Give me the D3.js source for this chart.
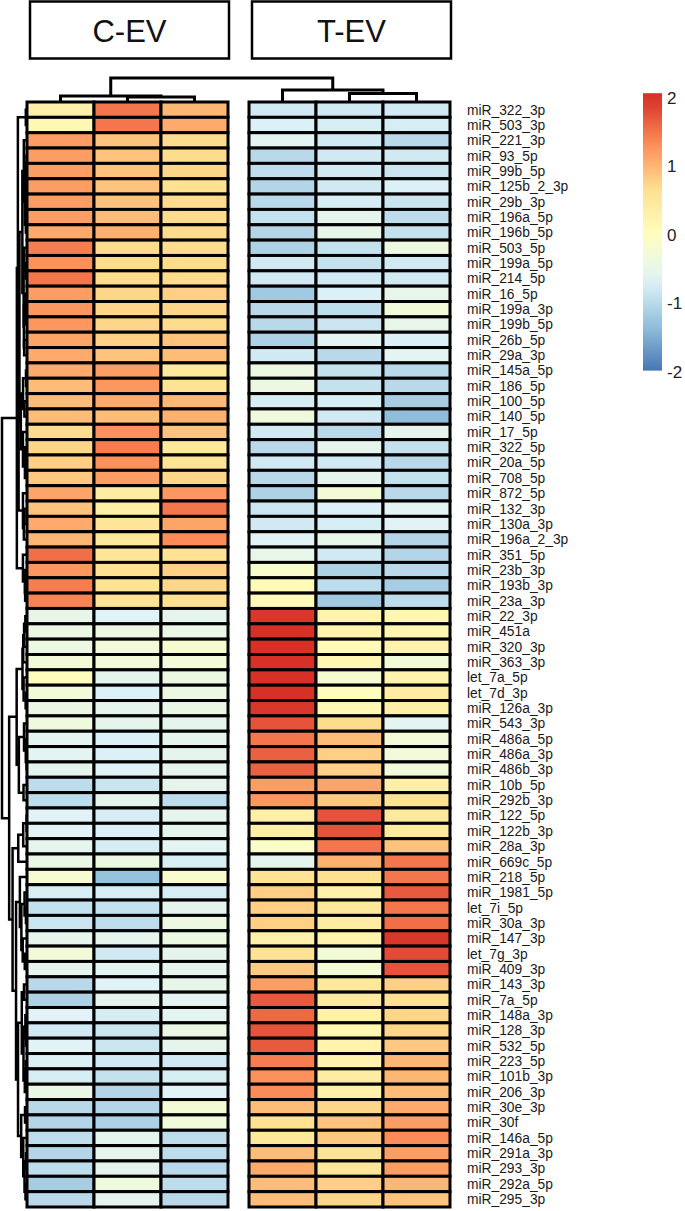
<!DOCTYPE html>
<html>
<head>
<meta charset="utf-8">
<title>miRNA heatmap</title>
<style>
  body { margin: 0; background: #fff; }
  svg { display: block; font-family: "Liberation Sans", Arial, sans-serif; }
  .rowlab { font-size: 13.8px; fill: #1a1a1a; }
  .leglab { font-size: 17px; fill: #222; }
  .grp { font-size: 31px; fill: #111; }
</style>
</head>
<body>
<div id="chart"></div>
<script src="https://cdn.jsdelivr.net/npm/d3@7"></script>
<script>
(function(d3) {
  'use strict';

  var rowLabels = [
    'miR_322_3p', 'miR_503_3p', 'miR_221_3p', 'miR_93_5p', 'miR_99b_5p', 'miR_125b_2_3p',
    'miR_29b_3p', 'miR_196a_5p', 'miR_196b_5p', 'miR_503_5p', 'miR_199a_5p', 'miR_214_5p',
    'miR_16_5p', 'miR_199a_3p', 'miR_199b_5p', 'miR_26b_5p', 'miR_29a_3p', 'miR_145a_5p',
    'miR_186_5p', 'miR_100_5p', 'miR_140_5p', 'miR_17_5p', 'miR_322_5p', 'miR_20a_5p',
    'miR_708_5p', 'miR_872_5p', 'miR_132_3p', 'miR_130a_3p', 'miR_196a_2_3p', 'miR_351_5p',
    'miR_23b_3p', 'miR_193b_3p', 'miR_23a_3p', 'miR_22_3p', 'miR_451a', 'miR_320_3p',
    'miR_363_3p', 'let_7a_5p', 'let_7d_3p', 'miR_126a_3p', 'miR_543_3p', 'miR_486a_5p',
    'miR_486a_3p', 'miR_486b_3p', 'miR_10b_5p', 'miR_292b_3p', 'miR_122_5p', 'miR_122b_3p',
    'miR_28a_3p', 'miR_669c_5p', 'miR_218_5p', 'miR_1981_5p', 'let_7i_5p', 'miR_30a_3p',
    'miR_147_3p', 'let_7g_3p', 'miR_409_3p', 'miR_143_3p', 'miR_7a_5p', 'miR_148a_3p',
    'miR_128_3p', 'miR_532_5p', 'miR_223_5p', 'miR_101b_3p', 'miR_206_3p', 'miR_30e_3p',
    'miR_30f', 'miR_146a_5p', 'miR_291a_3p', 'miR_293_3p', 'miR_292a_5p', 'miR_295_3p'
  ];

  var groups = ['C-EV', 'T-EV'];

  // row z-scores, one array per sample column
  var cev1 = [0.3, 0.15, 1.2, 1.2, 1.2, 1.2, 1.2, 1.2, 1.1, 1.45,
    1.3, 1.5, 1.2, 1.25, 1.25, 1.15, 1.1, 1.1, 0.95, 0.95,
    0.95, 0.7, 0.75, 0.8, 0.85, 1.15, 0.9, 1.1, 1.0, 1.55,
    1.25, 1.45, 1.4, -0.5, -0.4, -0.4, -0.3, 0.05, -0.3, -0.45,
    -0.35, -0.6, -0.6, -0.55, -0.95, -0.95, -0.65, -0.65, -0.55, -0.45,
    -0.2, -0.75, -0.9, -0.85, -0.55, -0.3, -0.55, -1.0, -1.1, -0.65,
    -0.8, -0.65, -0.7, -0.75, -0.45, -1.0, -1.05, -0.95, -1.05, -0.95,
    -1.15, -1.0];
  var cev2 = [1.5, 1.5, 0.9, 0.9, 0.9, 0.9, 0.9, 0.95, 1.05, 0.7,
    0.7, 0.7, 0.75, 0.75, 0.75, 0.8, 0.9, 1.2, 1.25, 1.1,
    0.95, 1.3, 1.45, 1.3, 1.2, 0.4, 0.35, 0.55, 0.5, 0.55,
    0.65, 0.6, 0.6, -0.65, -0.4, -0.3, -0.3, -0.55, -0.7, -0.55,
    -0.55, -0.7, -0.7, -0.65, -0.85, -0.55, -0.75, -0.7, -0.75, -0.4,
    -1.3, -0.75, -0.9, -0.95, -0.55, -0.8, -0.6, -0.65, -0.55, -0.75,
    -0.85, -0.85, -0.8, -0.9, -1.05, -1.05, -1.1, -0.55, -0.55, -0.55,
    -0.35, -0.55];
  var cev3 = [1.0, 1.1, 0.7, 0.7, 0.75, 0.65, 0.7, 0.7, 0.7, 0.7,
    0.7, 0.7, 0.8, 0.75, 0.7, 0.9, 0.95, 0.5, 0.6, 1.0,
    1.05, 0.9, 0.5, 0.6, 0.75, 1.25, 1.5, 1.15, 1.35, 0.6,
    0.8, 0.75, 0.65, -0.55, -0.45, -0.2, -0.3, -0.4, -0.4, -0.45,
    -0.55, -0.55, -0.55, -0.55, -0.55, -0.95, -0.55, -0.55, -0.6, -0.75,
    -0.15, -0.75, -0.55, -0.4, -0.4, -0.55, -0.55, -0.5, -0.6, -0.6,
    -0.45, -0.55, -0.8, -0.75, -0.65, -0.25, -0.3, -0.95, -0.95, -1.0,
    -0.95, -1.0];
  var tev1 = [-0.8, -0.7, -0.6, -1.0, -0.95, -1.05, -1.0, -0.9, -1.05, -1.1,
    -0.8, -0.8, -1.2, -1.0, -1.0, -1.1, -0.8, -0.4, -0.4, -0.75,
    -0.35, -0.8, -1.0, -0.8, -1.0, -1.1, -0.85, -0.8, -0.65, -0.5,
    -0.15, 0.1, 0.1, 1.95, 2.05, 2.0, 2.0, 2.0, 2.0, 1.95,
    1.75, 1.5, 1.65, 1.65, 1.2, 1.25, 0.35, 0.35, -0.1, -0.55,
    0.6, 0.8, 0.8, 0.8, 0.3, 0.6, 0.85, 1.2, 1.7, 1.6,
    1.75, 1.7, 1.45, 1.3, 1.35, 0.95, 0.65, 0.5, 0.95, 1.1,
    0.95, 0.95];
  var tev2 = [-0.8, -0.75, -0.8, -0.8, -0.8, -0.8, -0.75, -0.55, -0.5, -0.9,
    -0.9, -0.8, -0.7, -0.95, -0.85, -0.6, -1.0, -0.9, -0.9, -0.75,
    -0.8, -1.0, -0.55, -0.8, -0.55, -0.25, -0.7, -0.75, -0.5, -0.8,
    -1.1, -0.95, -1.2, 0.25, 0.25, 0.1, 0.2, -0.2, 0.05, 0.15,
    0.7, 0.95, 0.8, 0.8, 1.15, 0.85, 1.75, 1.75, 1.5, 1.05,
    0.65, 0.3, 0.5, 0.4, 0.25, -0.25, -0.25, 0.5, 0.45, 0.3,
    0.2, 0.25, 0.25, 0.4, 0.3, 0.75, 0.9, 0.85, 0.6, 0.55,
    0.8, 0.75];
  var tev3 = [-0.8, -0.75, -1.0, -0.8, -0.85, -0.7, -0.85, -0.95, -0.9, -0.4,
    -0.8, -0.8, -0.5, -0.3, -0.5, -0.7, -0.6, -1.0, -1.0, -1.15,
    -1.35, -0.55, -0.9, -1.0, -0.9, -1.0, -0.6, -0.65, -1.05, -1.05,
    -1.0, -1.15, -0.95, 0.2, 0.2, 0.25, -0.3, 0.25, 0.4, 0.35,
    -0.6, -0.3, -0.3, -0.3, 0.35, 0.6, 0.5, 0.45, 0.9, 1.5,
    1.5, 1.7, 1.5, 1.55, 1.95, 1.8, 1.75, 0.8, 0.65, 0.75,
    0.75, 0.85, 1.0, 1.0, 0.95, 1.1, 1.2, 1.35, 1.2, 1.2,
    1.0, 0.9];

  var legendTicks = [2, 1, 0, -1, -2];

  var columns = [
    { group: 'C-EV', idx: 0, values: cev1 },
    { group: 'C-EV', idx: 1, values: cev2 },
    { group: 'C-EV', idx: 2, values: cev3 },
    { group: 'T-EV', idx: 0, values: tev1 },
    { group: 'T-EV', idx: 1, values: tev2 },
    { group: 'T-EV', idx: 2, values: tev3 }
  ];

  var width = 685, height = 1211;

  var svg = d3.select('#chart').append('svg')
    .attr('width', width)
    .attr('height', height);

  // pheatmap style palette: rev(RdYlBu, 7)
  var palette = ['#4575B4', '#91BFDB', '#E0F3F8', '#FFFFBF', '#FEE090', '#FC8D59', '#D73027'];
  var color = d3.scaleLinear()
    .domain(d3.range(7).map(function(i) { return -2 + i * 4 / 6; }))
    .range(palette)
    .interpolate(d3.interpolateRgb)
    .clamp(true);

  var groupX = d3.scaleBand().domain(groups).range([27, 450]).paddingInner(0.0946);
  var colX = d3.scaleBand().domain([0, 1, 2]).range([0, groupX.bandwidth()]);
  var y = d3.scaleBand().domain(rowLabels).range([102, 1207]);

  function cx(c) { return groupX(c.group) + colX(c.idx); }

  // ---- heatmap cells
  var cells = [];
  columns.forEach(function(c) {
    c.values.forEach(function(v, r) {
      cells.push({ col: c, row: rowLabels[r], v: v });
    });
  });

  svg.append('g').selectAll('rect')
    .data(cells)
    .enter().append('rect')
    .attr('x', function(d) { return cx(d.col); })
    .attr('y', function(d) { return y(d.row); })
    .attr('width', colX.bandwidth())
    .attr('height', y.bandwidth())
    .attr('fill', function(d) { return color(d.v); })
    .attr('stroke', '#000')
    .attr('stroke-width', 3);

  // ---- row labels
  svg.append('g').selectAll('text')
    .data(rowLabels)
    .enter().append('text')
    .attr('class', 'rowlab')
    .attr('x', 467)
    .attr('y', function(d) { return y(d) + y.bandwidth() / 2; })
    .attr('dy', '0.35em')
    .text(function(d) { return d; });

  // ---- order-preserving complete-linkage clustering
  function euclid(a, b) {
    var s = 0;
    for (var i = 0; i < a.length; i++) s += (a[i] - b[i]) * (a[i] - b[i]);
    return Math.sqrt(s);
  }
  function cluster(vectors) {
    var dist = vectors.map(function(a) { return vectors.map(function(b) { return euclid(a, b); }); });
    var nodes = vectors.map(function(v, i) { return { leaf: i, members: [i], h: 0 }; });
    while (nodes.length > 1) {
      var best = -1, bestD = Infinity;
      for (var k = 0; k < nodes.length - 1; k++) {
        var dk = 0;
        nodes[k].members.forEach(function(a) {
          nodes[k + 1].members.forEach(function(b) { dk = Math.max(dk, dist[a][b]); });
        });
        if (dk < bestD) { bestD = dk; best = k; }
      }
      var merged = {
        children: [nodes[best], nodes[best + 1]],
        members: nodes[best].members.concat(nodes[best + 1].members),
        h: bestD
      };
      nodes.splice(best, 2, merged);
    }
    return d3.hierarchy(nodes[0]);
  }

  // ---- row dendrogram
  var rowVectors = rowLabels.map(function(r, i) {
    return columns.map(function(c) { return c.values[i]; });
  });
  var rowTree = cluster(rowVectors);
  rowTree.eachAfter(function(n) {
    n.pos = n.children ? (n.children[0].pos + n.children[1].pos) / 2
      : y(rowLabels[n.data.leaf]) + y.bandwidth() / 2;
  });
  var rowH = d3.scaleLinear().domain([0, rowTree.data.h]).range([27, 2]);

  svg.append('g').selectAll('path')
    .data(rowTree.descendants().filter(function(n) { return n.children; }))
    .enter().append('path')
    .attr('fill', 'none')
    .attr('stroke', '#000')
    .attr('stroke-width', 2.5)
    .attr('d', function(n) {
      var a = n.children[0], b = n.children[1];
      return 'M' + rowH(a.data.h) + ',' + a.pos +
        'H' + rowH(n.data.h) + 'V' + b.pos + 'H' + rowH(b.data.h);
    });

  // ---- column dendrogram
  var colVectors = columns.map(function(c) { return c.values; });
  var colTree = cluster(colVectors);
  colTree.eachAfter(function(n) {
    n.pos = n.children ? (n.children[0].pos + n.children[1].pos) / 2
      : cx(columns[n.data.leaf]) + colX.bandwidth() / 2;
  });
  var colH = d3.scaleLinear().domain([0, colTree.data.h]).range([102, 78]);

  svg.append('g').selectAll('path')
    .data(colTree.descendants().filter(function(n) { return n.children; }))
    .enter().append('path')
    .attr('fill', 'none')
    .attr('stroke', '#000')
    .attr('stroke-width', 3)
    .attr('d', function(n) {
      var a = n.children[0], b = n.children[1];
      return 'M' + a.pos + ',' + colH(a.data.h) +
        'V' + colH(n.data.h) + 'H' + b.pos + 'V' + colH(b.data.h);
    });

  // ---- group header boxes
  var hdr = svg.append('g').selectAll('g')
    .data(groups)
    .enter().append('g');
  hdr.append('rect')
    .attr('x', function(d) { return groupX(d) + 3; })
    .attr('y', 1.5)
    .attr('width', groupX.bandwidth() - 2)
    .attr('height', 57)
    .attr('fill', '#fff')
    .attr('stroke', '#000')
    .attr('stroke-width', 2.5);
  hdr.append('text')
    .attr('class', 'grp')
    .attr('x', function(d) { return groupX(d) + 2 + groupX.bandwidth() / 2; })
    .attr('y', 31)
    .attr('dy', '0.35em')
    .attr('text-anchor', 'middle')
    .text(function(d) { return d; });

  // ---- colour legend
  var ly = d3.scaleLinear().domain([-2, 2]).range([372, 98]);
  var barTop = 2.07, barBottom = -1.98;
  var grad = svg.append('defs').append('linearGradient')
    .attr('id', 'lg')
    .attr('x1', 0).attr('x2', 0).attr('y1', 1).attr('y2', 0);
  d3.range(0, 1.0001, 0.05).forEach(function(t) {
    var v = barBottom + t * (barTop - barBottom);
    grad.append('stop').attr('offset', t).attr('stop-color', color(v));
  });
  svg.append('rect')
    .attr('x', 643)
    .attr('y', ly(barTop))
    .attr('width', 19)
    .attr('height', ly(barBottom) - ly(barTop))
    .attr('fill', 'url(#lg)');
  svg.append('g').selectAll('text')
    .data(legendTicks)
    .enter().append('text')
    .attr('class', 'leglab')
    .attr('x', 667)
    .attr('y', function(d) { return ly(d); })
    .attr('dy', '0.35em')
    .text(function(d) { return d; });

})(window.d3);
</script>
</body>
</html>
